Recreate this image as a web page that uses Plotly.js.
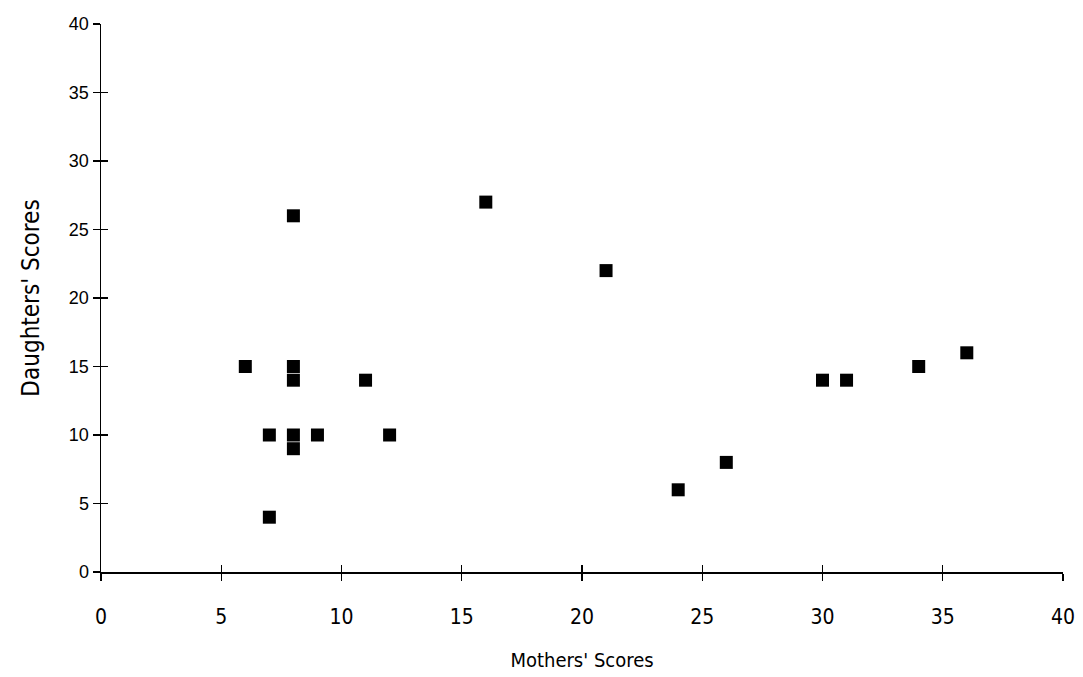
<!DOCTYPE html>
<html>
<head>
<meta charset="utf-8">
<script src="https://cdn.plot.ly/plotly-3.0.1.min.js"></script>
<style>html,body{margin:0;padding:0;background:#fff;}#chart{width:1083px;height:677px;}</style>
</head>
<body>
<div id="chart"></div>
<script>
const mothersScores = [6, 8, 8, 8, 11, 7, 8, 8, 9, 12, 7, 16, 21, 24, 26, 30, 31, 34, 36];
const daughtersScores = [15, 15, 14, 26, 14, 10, 10, 9, 10, 10, 4, 27, 22, 6, 8, 14, 14, 15, 16];
const tickValues = [0, 5, 10, 15, 20, 25, 30, 35, 40];
const xTitle = "Mothers' Scores";
const yTitle = "Daughters' Scores";

const condensed = 'Liberation Sans Narrow, DejaVu Sans Condensed, sans-serif';
const regular = 'Liberation Sans, Arial, sans-serif';

const traces = [
  {
    x: mothersScores, y: daughtersScores, type: 'scatter', mode: 'markers',
    marker: {symbol: 'square', size: 13, color: '#000'},
    hoverinfo: 'x+y', showlegend: false
  },
  {
    x: [0], y: [0], xaxis: 'x2', yaxis: 'y2', type: 'scatter', mode: 'markers',
    marker: {opacity: 0}, hoverinfo: 'skip', showlegend: false
  }
];

const layout = {
  width: 1083, height: 677,
  margin: {l: 101, r: 20, t: 24, b: 105},
  paper_bgcolor: '#fff', plot_bgcolor: '#fff',
  showlegend: false,
  xaxis: {
    range: [0, 40], tickvals: tickValues, ticktext: tickValues.map(String),
    showgrid: false, zeroline: false, showline: true, linecolor: '#000', linewidth: 1.5,
    ticks: 'outside', ticklen: 7, tickwidth: 1.2, tickcolor: '#000',
    ticklabelstandoff: 18,
    tickfont: {family: condensed, size: 21, color: '#000'},
    title: {text: xTitle, font: {family: condensed, size: 20, color: '#000'}, standoff: 25},
    automargin: false, fixedrange: true
  },
  yaxis: {
    range: [0, 40], tickvals: tickValues, ticktext: tickValues.map(String),
    showgrid: false, zeroline: false, showline: true, linecolor: '#000', linewidth: 1.5,
    ticks: 'outside', ticklen: 7, tickwidth: 1.2, tickcolor: '#000',
    ticklabelstandoff: 0,
    tickfont: {family: regular, size: 18, color: '#000'},
    title: {text: yTitle, font: {family: condensed, size: 24, color: '#000'}, standoff: 22},
    automargin: false, fixedrange: true
  },
  xaxis2: {
    overlaying: 'x', anchor: 'y2', range: [0, 40], tickvals: tickValues,
    showticklabels: false, showgrid: false, zeroline: false, showline: false,
    ticks: 'inside', ticklen: 7, tickwidth: 1.2, tickcolor: '#000', fixedrange: true
  },
  yaxis2: {
    overlaying: 'y', anchor: 'x2', range: [0, 40], tickvals: tickValues,
    showticklabels: false, showgrid: false, zeroline: false, showline: false,
    ticks: 'inside', ticklen: 7, tickwidth: 1.2, tickcolor: '#000', fixedrange: true
  }
};

Plotly.newPlot('chart', traces, layout, {displayModeBar: false, staticPlot: true});
</script>
</body>
</html>
